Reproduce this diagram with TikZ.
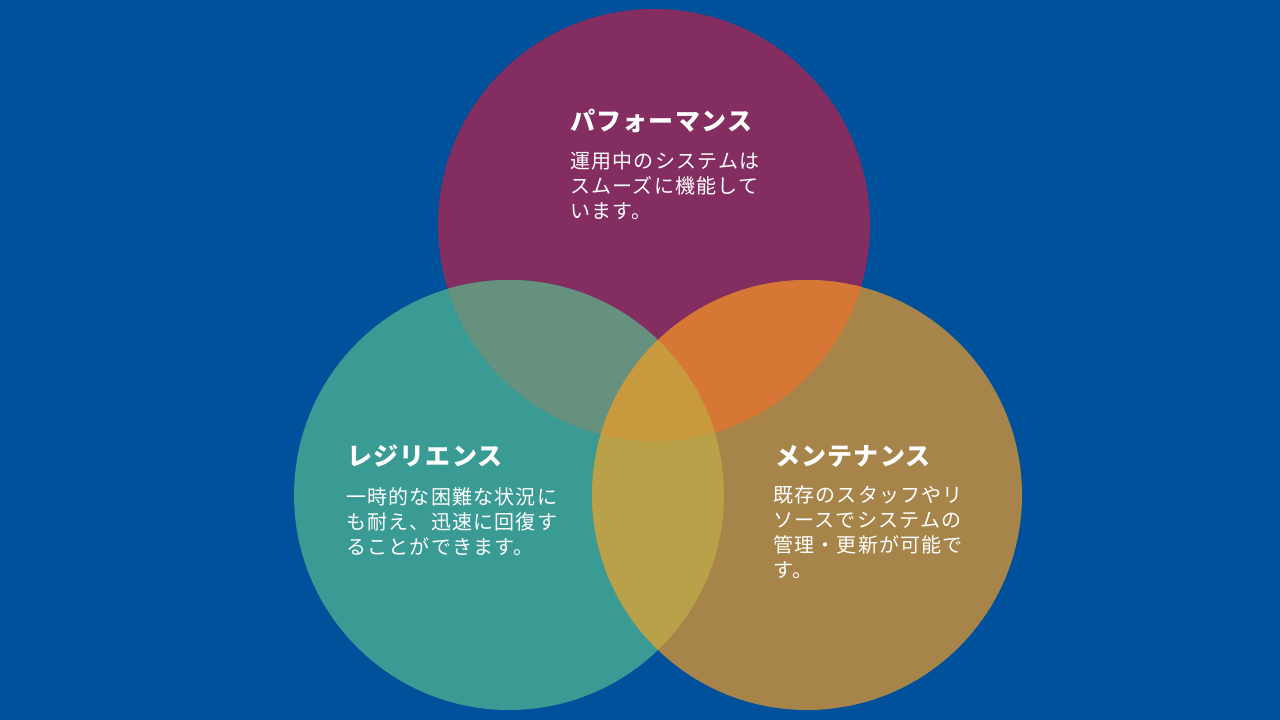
\documentclass[tikz,border=0pt]{standalone}
\usepackage{fontspec}
\newfontfamily\jptitle[LetterSpace=5]{Noto Sans CJK JP}
\newfontfamily\jpbody[LetterSpace=6]{Noto Sans CJK JP}
\definecolor{bg}{HTML}{00519B}
\definecolor{ctop}{HTML}{842D61}
\definecolor{cleft}{HTML}{3A9A94}
\definecolor{cright}{HTML}{A6844A}
\definecolor{ctl}{HTML}{66917E}
\definecolor{ctr}{HTML}{D77735}
\definecolor{clr}{HTML}{B8A148}
\definecolor{call}{HTML}{C9993E}
\tikzset{
  titletext/.style={anchor=base west, inner sep=0pt, text=white, font=\jptitle\bfseries\fontsize{25}{30}\selectfont},
  bodytext/.style={anchor=base west, inner sep=0pt, text=white, align=left, font=\jpbody\fontsize{20}{25.2}\selectfont},
}
\begin{document}
\begin{tikzpicture}[x=1pt,y=-1pt]
\useasboundingbox (0,0) rectangle (1280,720);
\fill[bg] (0,0) rectangle (1280,720);
\coordinate (T) at (654,225);
\coordinate (L) at (509,495);
\coordinate (R) at (807,495);
\fill[ctop] (T) circle (216pt);
\fill[cleft] (L) circle (215pt);
\fill[cright] (R) circle (215pt);
\begin{scope}
  \clip (T) circle (216pt);
  \fill[ctl] (L) circle (215pt);
  \fill[ctr] (R) circle (215pt);
\end{scope}
\begin{scope}
  \clip (L) circle (215pt);
  \fill[clr] (R) circle (215pt);
  \clip (R) circle (215pt);
  \fill[call] (T) circle (216pt);
\end{scope}
% anchor base of a multi-line node is the baseline of its last line
\node[titletext] (t1) at (570,130) {パフォーマンス};
\node[bodytext] (b1) at (570,218.4) {運用中のシステムは\\スムーズに機能して\\います。};
\node[titletext] (t2) at (347,465) {レジリエンス};
\node[bodytext] (b2) at (346,554.4) {一時的な困難な状況に\\も耐え、迅速に回復す\\ることができます。};
\node[titletext] (t3) at (775,465) {メンテナンス};
\node[bodytext] (b3) at (773,577.6) {既存のスタッフやリ\\ソースでシステムの\\管理・更新が可能で\\す。};
\end{tikzpicture}
\end{document}
